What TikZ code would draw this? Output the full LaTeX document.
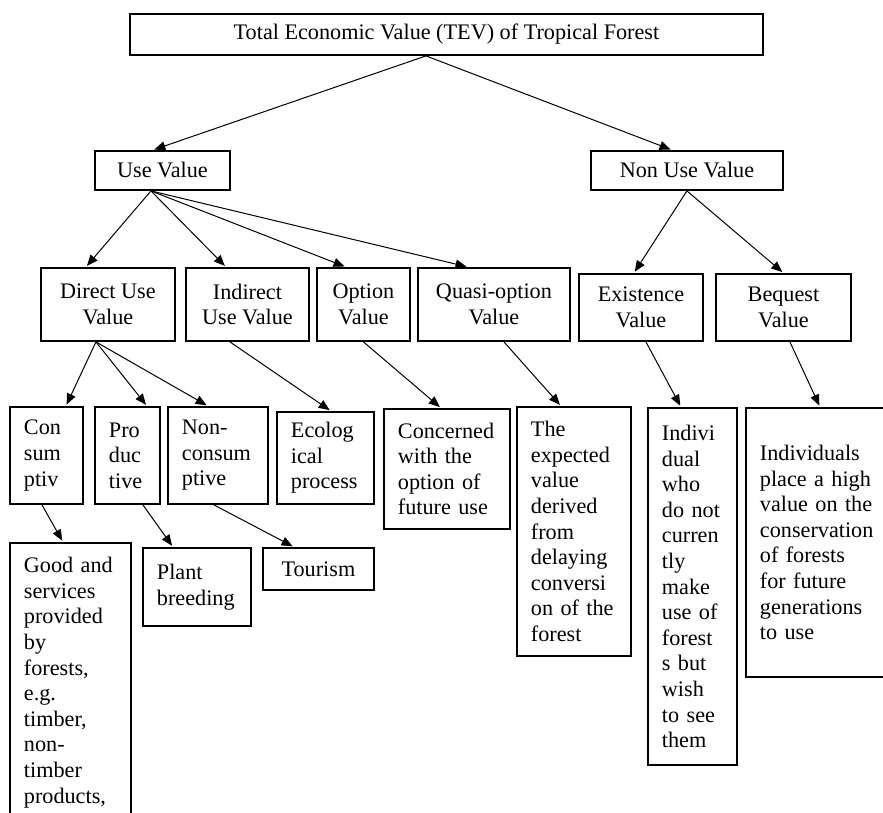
\documentclass[tikz,border=0pt]{standalone}
\usepackage{fontspec}
\setmainfont{Liberation Serif}
\usetikzlibrary{arrows.meta}
\newcommand\dfont{\fontsize{22.2}{25.6}\selectfont}
\begin{document}
\begin{tikzpicture}[x=1pt,y=-1pt,
  box/.style={draw, line width=1.9pt, inner sep=0pt, anchor=north west, font=\dfont},
  cbox/.style={box, align=center},
  lbox/.style={box, align=left, inner xsep=14pt},
  arr/.style={-{Triangle[length=11pt,width=9pt]}, line width=1pt, shorten >=1.5pt}]
\useasboundingbox (0,0) rectangle (883,812);
\fill[white] (0,0) rectangle (883,812);
\clip (0,0) rectangle (883,812);
% level 0
\node[cbox, minimum width=633pt, minimum height=41.3pt] (tev) at (129,12.7) {Total Economic Value (TEV) of Tropical Forest};
% level 1
\node[cbox, minimum width=135pt, minimum height=39pt] (use) at (94,150) {Use Value};
\node[cbox, minimum width=192pt, minimum height=39pt] (nonuse) at (590,150) {Non Use Value};
% level 2
\node[cbox, minimum width=134pt, minimum height=73pt] (direct) at (40,267) {Direct Use\\Value};
\node[cbox, minimum width=123pt, minimum height=73pt] (indirect) at (185,267) {Indirect\\Use Value};
\node[cbox, minimum width=93pt, minimum height=73pt] (option) at (316,267) {Option\\Value};
\node[cbox, minimum width=152pt, minimum height=73pt] (quasi) at (417,267) {Quasi-option\\Value};
\node[cbox, minimum width=124pt, minimum height=67pt] (exist) at (578,273) {Existence\\Value};
\node[cbox, minimum width=135pt, minimum height=67pt] (bequest) at (715,273) {Bequest\\Value};
% level 3
\node[lbox, text width=45pt, minimum height=97pt] (cons) at (9,406) {Con\\sum\\ptiv};
\node[lbox, text width=37pt, minimum height=97pt] (prod) at (94,406) {Pro\\duc\\tive};
\node[lbox, text width=72pt, minimum height=97pt] (noncons) at (167,406) {Non-\\consum\\ptive};
\node[lbox, text width=69pt, minimum height=92pt] (ecol) at (276,411) {Ecolog\\ical\\process};
\node[lbox, text width=98pt, minimum height=120pt] (conc) at (383,408) {Concerned\\with the\\option of\\future use};
\node[lbox, text width=86pt, minimum height=249pt] (expect) at (516,406) {The\\expected\\value\\derived\\from\\delaying\\conversi\\on of the\\forest};
\node[lbox, text width=61pt, minimum height=357pt] (indiv) at (647,407) {Indivi\\dual\\who\\do not\\curren\\tly\\make\\use of\\forest\\s but\\wish\\to see\\them};
\node[lbox, text width=117pt, minimum height=269pt] (indivs) at (745,407) {Individuals\\place a high\\value on the\\conservation\\of forests\\for future\\generations\\to use};
% level 4
\node[lbox, text width=93pt, minimum height=279pt] (goods) at (9,542) {Good and\\services\\provided\\by\\forests,\\e.g.\\timber,\\non-\\timber\\products,};
\node[lbox, text width=80pt, minimum height=78pt] (plant) at (142,547) {Plant\\breeding};
\node[cbox, minimum width=111pt, minimum height=42pt] (tour) at (262,547) {Tourism};
% connectors
\draw[arr] ([xshift=-20.5pt]tev.south) -- ([xshift=-9.5pt]use.north);
\draw[arr] ([xshift=-20.5pt]tev.south) -- ([xshift=-15pt]nonuse.north);
\draw[arr] ([xshift=-11.5pt]use.south) -- ([xshift=-22pt]direct.north);
\draw[arr] ([xshift=-11.5pt]use.south) -- ([xshift=-21.5pt]indirect.north);
\draw[arr] ([xshift=-11.5pt]use.south) -- ([xshift=-17.5pt]option.north);
\draw[arr] ([xshift=-11.5pt]use.south) -- ([xshift=-26pt]quasi.north);
\draw[arr] (nonuse.south) -- ([xshift=-7pt]exist.north);
\draw[arr] (nonuse.south) -- (bequest.north);
\draw[arr] ([xshift=-12pt]direct.south) -- ([xshift=19.5pt]cons.north);
\draw[arr] ([xshift=-12pt]direct.south) -- ([xshift=19.5pt]prod.north);
\draw[arr] ([xshift=-12pt]direct.south) -- ([xshift=-10pt]noncons.north);
\draw[arr] ([xshift=-17.5pt]indirect.south) -- ([xshift=5.5pt]ecol.north);
\draw[arr] (option.south) -- ([xshift=-6pt]conc.north);
\draw[arr] ([xshift=10pt]quasi.south) -- ([xshift=-13pt]expect.north);
\draw[arr] ([xshift=5pt]exist.south) -- ([xshift=-11.5pt]indiv.north);
\draw[arr] ([xshift=6.5pt]bequest.south) -- ([xshift=75pt]indivs.north west);
\draw[arr] ([xshift=-4.5pt]cons.south) -- ([xshift=-7.5pt]goods.north);
\draw[arr] ([xshift=15.5pt]prod.south) -- ([xshift=-24pt]plant.north);
\draw[arr] ([xshift=-4pt]noncons.south) -- ([xshift=-24.5pt]tour.north);
\end{tikzpicture}
\end{document}
